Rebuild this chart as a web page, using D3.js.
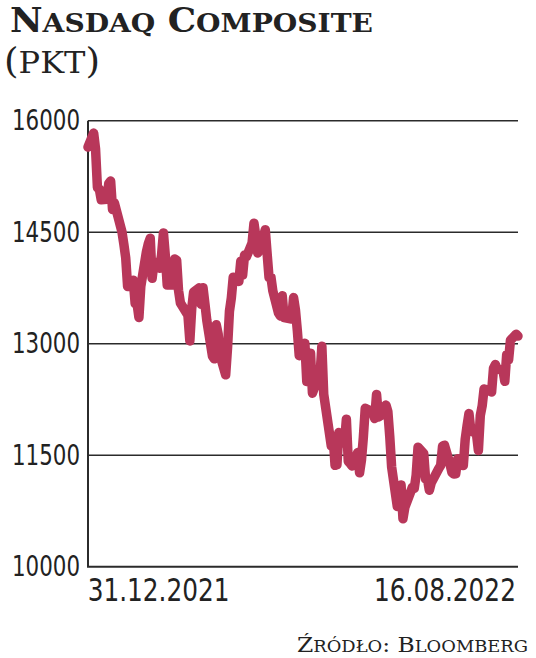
<!DOCTYPE html>
<html>
<head>
<meta charset="utf-8">
<script src="https://cdn.jsdelivr.net/npm/d3@7"></script>
<style>
  html, body { margin: 0; padding: 0; background: #fff; }
  svg { display: block; }
</style>
</head>
<body>
<svg id="chart" width="536" height="658"></svg>
<script>
const dates = [
"2021-12-31","2022-01-03","2022-01-04","2022-01-05","2022-01-06","2022-01-07","2022-01-10","2022-01-11","2022-01-12","2022-01-13","2022-01-14",
"2022-01-18","2022-01-19","2022-01-20","2022-01-21","2022-01-24","2022-01-25","2022-01-26","2022-01-27","2022-01-28","2022-01-31",
"2022-02-01","2022-02-02","2022-02-03","2022-02-04","2022-02-07","2022-02-08","2022-02-09","2022-02-10","2022-02-11","2022-02-14",
"2022-02-15","2022-02-16","2022-02-17","2022-02-18","2022-02-22","2022-02-23","2022-02-24","2022-02-25","2022-02-28",
"2022-03-01","2022-03-02","2022-03-03","2022-03-04","2022-03-07","2022-03-08","2022-03-09","2022-03-10","2022-03-11","2022-03-14",
"2022-03-15","2022-03-16","2022-03-17","2022-03-18","2022-03-21","2022-03-22","2022-03-23","2022-03-24","2022-03-25","2022-03-28",
"2022-03-29","2022-03-30","2022-03-31","2022-04-01","2022-04-04","2022-04-05","2022-04-06","2022-04-07","2022-04-08","2022-04-11",
"2022-04-12","2022-04-13","2022-04-14","2022-04-18","2022-04-19","2022-04-20","2022-04-21","2022-04-22","2022-04-25","2022-04-26",
"2022-04-27","2022-04-28","2022-04-29","2022-05-02","2022-05-03","2022-05-04","2022-05-05","2022-05-06","2022-05-09","2022-05-10",
"2022-05-11","2022-05-12","2022-05-13","2022-05-16","2022-05-17","2022-05-18","2022-05-19","2022-05-20","2022-05-23","2022-05-24",
"2022-05-25","2022-05-26","2022-05-27","2022-05-31","2022-06-01","2022-06-02","2022-06-03","2022-06-06","2022-06-07","2022-06-08",
"2022-06-09","2022-06-10","2022-06-13","2022-06-14","2022-06-15","2022-06-16","2022-06-17","2022-06-21","2022-06-22","2022-06-23",
"2022-06-24","2022-06-27","2022-06-28","2022-06-29","2022-06-30","2022-07-01","2022-07-05","2022-07-06","2022-07-07","2022-07-08",
"2022-07-11","2022-07-12","2022-07-13","2022-07-14","2022-07-15","2022-07-18","2022-07-19","2022-07-20","2022-07-21","2022-07-22",
"2022-07-25","2022-07-26","2022-07-27","2022-07-28","2022-07-29","2022-08-01","2022-08-02","2022-08-03","2022-08-04","2022-08-05",
"2022-08-08","2022-08-09","2022-08-10","2022-08-11","2022-08-12","2022-08-15","2022-08-16"
];
const values = [
15645,15833,15623,15100,15081,14936,14943,15153,15188,14807,14894,
14507,14340,14154,13769,13855,13539,13542,13353,13771,14240,
14346,14418,13879,14098,14016,14194,14490,14186,13791,13791,
14140,14124,13717,13548,13382,13037,13474,13695,13751,
13532,13752,13538,13313,12831,12796,13256,13130,12844,12581,
12949,13437,13615,13894,13838,14109,13923,14192,14169,14355,
14620,14442,14221,14262,14533,14204,13889,13897,13711,13412,
13372,13644,13351,13332,13620,13453,13175,12839,13005,12491,
12489,12872,12335,12536,12564,12965,12318,12145,11623,11738,
11364,11371,11805,11663,11985,11418,11389,11355,11535,11264,
11435,11741,12131,12081,11994,12317,12013,12061,12175,12086,
11754,11340,10809,10828,11099,10646,10798,11069,11053,11232,
11608,11525,11182,11178,11029,11128,11322,11362,11621,11635,
11373,11265,11248,11251,11452,11360,11713,11898,12060,11834,
11783,11563,12032,12163,12391,12369,12349,12668,12721,12658,
12644,12494,12855,12780,13047,13128,13103
];
const yTicks = [10000, 11500, 13000, 14500, 16000];
const xLabels = ["31.12.2021", "16.08.2022"];
const titleText = "Nasdaq Composite";
const sourceText = "Źródło: Bloomberg";

(function () {
const parse = d3.timeParse("%Y-%m-%d");
const data = dates.map((d, i) => ({ date: parse(d), value: values[i] }));

const svg = d3.select("#chart");
const pL = 88, pR = 518, pT = 120.7, pB = 566.7;

const x = d3.scaleTime()
  .domain(d3.extent(data, d => d.date))
  .range([pL, pR]);
const y = d3.scaleLinear()
  .domain([10000, 16000])
  .range([pB, pT]);

const ink = "#2b2b2b";
const lineColor = "#b8375a";
const tickFont = "'DejaVu Sans Condensed', 'DejaVu Sans', sans-serif";
const serif = "'DejaVu Serif', serif";

function smallCaps(textSel, str, bigSize, smallSize) {
  const parts = [];
  for (const ch of str) {
    const isLower = ch !== ch.toUpperCase();
    const size = isLower ? smallSize : bigSize;
    const last = parts[parts.length - 1];
    if (last && last.size === size) last.text += ch.toUpperCase();
    else parts.push({ text: ch.toUpperCase(), size });
  }
  parts.forEach(p => textSel.append("tspan").attr("font-size", p.size).text(p.text));
}

// squeeze a text horizontally to a target width, keeping its anchor point
function squeeze(sel, target) {
  sel.each(function () {
    const w = this.getComputedTextLength();
    if (w > 0) d3.select(this).attr("transform", `scale(${target / w},1)`);
  });
}

// Title
const title = svg.append("text")
  .attr("x", 10).attr("y", 32)
  .attr("font-family", serif).attr("font-weight", "bold")
  .attr("fill", "#222")
  .attr("textLength", 363).attr("lengthAdjust", "spacingAndGlyphs");
smallCaps(title, titleText, 33, 26);

const unit = svg.append("text")
  .attr("x", 4).attr("y", 73)
  .attr("font-family", serif)
  .attr("fill", "#222")
  .attr("textLength", 96).attr("lengthAdjust", "spacingAndGlyphs");
unit.append("tspan").attr("font-size", 35).text("(");
unit.append("tspan").attr("font-size", 30).text("PKT");
unit.append("tspan").attr("font-size", 35).text(")");

// Gridlines
svg.append("g")
  .selectAll("line")
  .data(yTicks.filter(t => t > 10000))
  .join("line")
  .attr("x1", pL).attr("x2", pR)
  .attr("y1", d => y(d)).attr("y2", d => y(d))
  .attr("stroke", ink).attr("stroke-width", 1.5);

// Y axis labels
const yAxis = d3.axisLeft(y).tickValues(yTicks).tickSize(0).tickPadding(8).tickFormat(d3.format("d"));
const yg = svg.append("g").attr("transform", `translate(${pL},0)`).call(yAxis);
yg.select(".domain").remove();
yg.selectAll("text")
  .attr("font-family", tickFont).attr("font-size", 29).attr("fill", "#222")
  .attr("textLength", 68).attr("lengthAdjust", "spacingAndGlyphs");

// Axis lines
svg.append("line").attr("x1", pL).attr("x2", pL).attr("y1", pT).attr("y2", pB)
  .attr("stroke", ink).attr("stroke-width", 2);
svg.append("line").attr("x1", pL - 1).attr("x2", pR).attr("y1", pB).attr("y2", pB)
  .attr("stroke", ink).attr("stroke-width", 2);

// Line
const line = d3.line().x(d => x(d.date)).y(d => y(d.value));
svg.append("path")
  .datum(data)
  .attr("d", line)
  .attr("fill", "none")
  .attr("stroke", lineColor)
  .attr("stroke-width", 9.5)
  .attr("stroke-linejoin", "round")
  .attr("stroke-linecap", "round");

// X labels
const xAxis = d3.axisBottom(x)
  .tickValues([data[0].date, data[data.length - 1].date])
  .tickSize(0).tickPadding(12)
  .tickFormat((d, i) => xLabels[i]);
const xg = svg.append("g").attr("transform", `translate(0,${pB})`).call(xAxis);
xg.select(".domain").remove();
const xt = xg.selectAll("text")
  .attr("font-family", tickFont).attr("font-size", 32).attr("fill", "#222")
  .attr("text-anchor", (d, i) => i === 0 ? "start" : "end")
  .attr("dx", (d, i) => i === 0 ? -1 : -3);
squeeze(xt, 142);

// Source
const src = svg.append("text")
  .attr("x", 297).attr("y", 652)
  .attr("font-family", serif)
  .attr("fill", "#222")
  .attr("textLength", 231).attr("lengthAdjust", "spacingAndGlyphs");
smallCaps(src, sourceText, 21, 16);
})();
</script>
</body>
</html>
